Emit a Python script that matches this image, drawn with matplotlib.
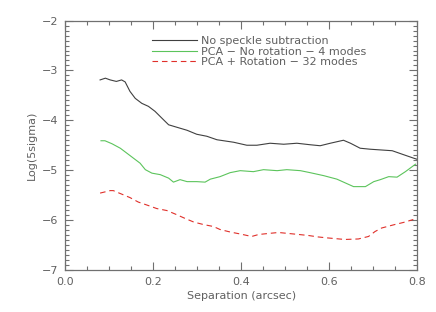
import matplotlib
matplotlib.use("Agg")
import matplotlib.pyplot as plt
from matplotlib.ticker import MultipleLocator

# Data
sep_black = [0.079, 0.091, 0.102, 0.116, 0.128, 0.136, 0.147, 0.159, 0.174, 0.189, 0.204,
             0.220, 0.235, 0.254, 0.277, 0.299, 0.322, 0.345, 0.383, 0.413, 0.436, 0.466,
             0.497, 0.527, 0.557, 0.580, 0.603, 0.633, 0.649, 0.671, 0.694, 0.744, 0.770,
             0.793, 0.800]
log_black = [-3.19, -3.155, -3.19, -3.22, -3.19, -3.23, -3.42, -3.56, -3.66, -3.72, -3.82,
             -3.96, -4.09, -4.14, -4.20, -4.28, -4.32, -4.39, -4.44, -4.50, -4.50, -4.46,
             -4.48, -4.46, -4.49, -4.51, -4.46, -4.40, -4.46, -4.56, -4.58, -4.61, -4.69,
             -4.76, -4.78]

sep_green = [0.081, 0.090, 0.106, 0.125, 0.140, 0.155, 0.170, 0.182, 0.197, 0.216, 0.235,
             0.246, 0.261, 0.277, 0.299, 0.318, 0.330, 0.352, 0.375, 0.398, 0.428, 0.451,
             0.482, 0.504, 0.535, 0.557, 0.588, 0.618, 0.656, 0.683, 0.702, 0.717, 0.736,
             0.755, 0.774, 0.797]
log_green = [-4.41, -4.41, -4.47, -4.56, -4.66, -4.76, -4.86, -4.99, -5.06, -5.09, -5.16,
             -5.24, -5.19, -5.23, -5.23, -5.24, -5.18, -5.13, -5.05, -5.01, -5.03, -4.99,
             -5.01, -4.99, -5.01, -5.05, -5.11, -5.18, -5.33, -5.33, -5.23, -5.19, -5.13,
             -5.14, -5.03, -4.88]

sep_red = [0.079, 0.102, 0.109, 0.128, 0.147, 0.166, 0.189, 0.208, 0.231, 0.250, 0.273,
           0.292, 0.314, 0.337, 0.352, 0.375, 0.398, 0.424, 0.440, 0.462, 0.485, 0.508,
           0.531, 0.553, 0.576, 0.598, 0.636, 0.667, 0.690, 0.705, 0.720, 0.750, 0.769,
           0.792]
log_red = [-5.46, -5.41, -5.41, -5.48, -5.55, -5.64, -5.71, -5.77, -5.81, -5.88, -5.97,
           -6.04, -6.09, -6.13, -6.19, -6.24, -6.28, -6.33, -6.29, -6.27, -6.25, -6.27,
           -6.29, -6.31, -6.34, -6.36, -6.39, -6.38, -6.33, -6.23, -6.16, -6.09, -6.05,
           -5.99]

labels = ["No speckle subtraction",
          "PCA \u2212 No rotation \u2212 4 modes",
          "PCA + Rotation \u2212 32 modes"]

txt = "#606060"
spine = "#707070"

fig = plt.figure(figsize=(4.36, 3.12), dpi=100)
ax = fig.add_axes([0.150, 0.135, 0.806, 0.799])

ax.plot(sep_black, log_black, color="#404040", lw=0.8, label=labels[0])
ax.plot(sep_green, log_green, color="#5cc45c", lw=0.8, label=labels[1])
ax.plot(sep_red, log_red, color="#e0302a", lw=0.8, ls=(0, (5, 3.5)), label=labels[2])

ax.set_xlim(0.0, 0.8)
ax.set_ylim(-7, -2)
ax.xaxis.set_minor_locator(MultipleLocator(0.05))
ax.yaxis.set_minor_locator(MultipleLocator(0.1))
ax.set_xticks([0.0, 0.2, 0.4, 0.6, 0.8])
ax.set_xticklabels(["0.0", "0.2", "0.4", "0.6", "0.8"])
ax.set_yticks([-7, -6, -5, -4, -3, -2])
ax.set_yticklabels(["\u22127", "\u22126", "\u22125", "\u22124", "\u22123", "\u22122"])

ax.tick_params(which="both", direction="in", top=True, right=True, color=spine,
               labelcolor=txt, labelsize=8, width=0.8)
ax.tick_params(which="major", length=6, pad=5)
ax.tick_params(which="minor", length=3)
for s in ax.spines.values():
    s.set_color(spine)
    s.set_linewidth(0.9)

ax.set_xlabel("Separation (arcsec)", color=txt, fontsize=8, labelpad=3)
ax.set_ylabel("Log(5sigma)", color=txt, fontsize=8, labelpad=4)

leg = ax.legend(loc="upper left", bbox_to_anchor=(0.235, 0.955), frameon=False,
                fontsize=8, handlelength=4.0, handletextpad=0.35,
                labelspacing=0.05, borderaxespad=0.0)
for t in leg.get_texts():
    t.set_color(txt)

fig.savefig("out.png", dpi=100)
